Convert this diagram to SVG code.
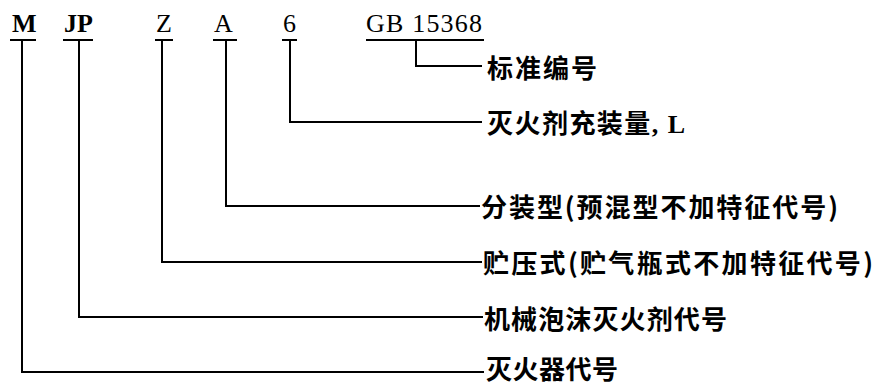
<svg xmlns="http://www.w3.org/2000/svg" width="878" height="387" viewBox="0 0 878 387">
<style>
.code{font-family:"Liberation Serif","Times New Roman",serif;font-size:26px;fill:#000}
.b{font-weight:bold}
.lbl{font-family:"Noto Sans CJK SC","Noto Sans",sans-serif;font-size:26px;font-weight:bold;fill:#000}
.ser{font-family:"Liberation Serif",serif;font-weight:bold}
.ln{stroke:#000;stroke-width:2;fill:none}
</style>
<rect width="878" height="387" fill="#fff"/>
<g id="code-M"><text class="code b" x="12" y="32">M</text></g>
<g id="code-JP"><text class="code b" x="64" y="32">JP</text></g>
<g id="code-Z"><text class="code" x="156" y="32">Z</text></g>
<g id="code-A"><text class="code" x="214" y="32">A</text></g>
<g id="code-6"><text class="code" x="283" y="32">6</text></g>
<g id="code-GB"><text class="code" x="366" y="32" textLength="116" lengthAdjust="spacing">GB 15368</text></g>
<g id="connectors" class="ln">
<path d="M10 40H36M63 40H93M155 40H173M213 40H237M282 40H297M366 40H484"/>
<path d="M416 40V66H482"/>
<path d="M290 40V122H482"/>
<path d="M226 40V206H480"/>
<path d="M162 40V262H482"/>
<path d="M79 40V317H483"/>
<path d="M22 40V372H484"/>
</g>
<g id="label-standard"><text class="lbl" x="487" y="78" textLength="110" lengthAdjust="spacing">标准编号</text></g>
<g id="label-volume"><text class="lbl" x="487" y="133" textLength="198" lengthAdjust="spacing">灭火剂充装量<tspan class="ser">, L</tspan></text></g>
<g id="label-A"><text class="lbl" x="481" y="217" textLength="357" lengthAdjust="spacing">分装型(预混型不加特征代号)</text></g>
<g id="label-Z"><text class="lbl" x="483" y="273" textLength="390" lengthAdjust="spacing">贮压式(贮气瓶式不加特征代号)</text></g>
<g id="label-JP"><text class="lbl" x="484" y="329" textLength="243" lengthAdjust="spacing">机械泡沫灭火剂代号</text></g>
<g id="label-M"><text class="lbl" x="486" y="379" textLength="132" lengthAdjust="spacing">灭火器代号</text></g>
</svg>
